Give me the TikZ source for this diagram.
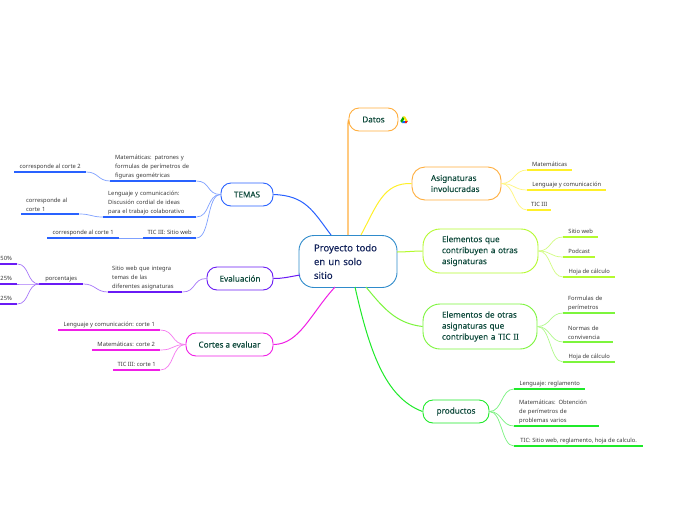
\documentclass[tikz,border=0pt]{standalone}
\usepackage{fontspec}
\setmainfont{Noto Sans}
\newfontfamily\heavy[FakeBold=0.2]{Noto Sans}
\definecolor{cblue}{HTML}{2962FF}
\definecolor{cviolet}{HTML}{6A1BF5}
\definecolor{cmag}{HTML}{F01FE6}
\definecolor{corange}{HTML}{FFAE3D}
\definecolor{cyel}{HTML}{FFF02A}
\definecolor{clime}{HTML}{B4FA2E}
\definecolor{clgreen}{HTML}{7CF53C}
\definecolor{cgreen}{HTML}{1FEA2A}
\definecolor{ccenter}{HTML}{2F8BCB}
\definecolor{tdark}{HTML}{0F4A3C}
\definecolor{tnavy}{HTML}{14245C}
\definecolor{tleaf}{HTML}{3A3A3A}
\tikzset{
  topic/.style={draw=#1,line width=0.9pt,rounded corners=10pt,fill=white,text=tdark,font=\heavy\fontsize{8.15}{11}\selectfont,inner sep=0pt,align=left},
  leafbox/.style={inner sep=0pt,text=tleaf,font=\fontsize{5.8}{9}\selectfont,align=left,anchor=south west},
  uline/.style={draw=#1,line width=1.2pt},
  twig/.style={draw=#1!60!white,line width=0.7pt},
  branch/.style={draw=#1,line width=1pt},
}
% name, x-left, x-right, height, left pad, y of box bottom, text
\newcommand{\leafnode}[7]{%
  \node[leafbox,minimum width=#3pt-#2pt,minimum height=#4pt,text width=#3pt-#2pt-2*#5pt] (#1) at (#2,#6) {#7};
}
\newcommand{\oneleaf}[5]{%
  \node[leafbox,minimum width=#3pt-#2pt,minimum height=10pt] (#1) at (#2,#4) {#5};
}
\begin{document}
\begin{tikzpicture}[x=1pt,y=-1pt]
\useasboundingbox (0,0) rectangle (696,520);
\fill[white] (0,0) rectangle (696,520);
% topic nodes
\node[topic=cblue,minimum width=52pt,minimum height=23pt,align=center] (temas) at (247,194.5) {TEMAS};
\node[topic=cviolet,minimum width=66pt,minimum height=23pt,align=center] (eval) at (240,278.5) {Evaluación};
\node[topic=cmag,minimum width=87pt,minimum height=23pt,align=center] (cortes) at (229.5,344.5) {Cortes a evaluar};
\node[topic=corange,minimum width=49pt,minimum height=23pt,align=center] (datos) at (373.5,119.5) {Datos};
\node[topic=corange,minimum width=89pt,minimum height=33pt,rounded corners=13pt,text width=51pt] (asig) at (456.5,183.5) {Asignaturas\\involucradas};
\node[topic=clime,minimum width=115pt,minimum height=44pt,rounded corners=17pt,text width=77pt] (eque) at (480.5,251) {Elementos que\\contribuyen a otras\\asignaturas};
\node[topic=clgreen,minimum width=114pt,minimum height=45pt,rounded corners=17pt,text width=76pt] (eotras) at (480,326.5) {Elementos de otras\\asignaturas que\\\makebox[0pt][l]{contribuyen a TIC II}};
\node[topic=cgreen,minimum width=66pt,minimum height=23pt,align=center] (prod) at (456,411.5) {productos};
\node[topic=ccenter,minimum width=98pt,minimum height=52pt,rounded corners=15pt,text=tnavy,text width=68pt,font=\heavy\fontsize{9.5}{13.8}\selectfont] (center) at (348,261.5) {Proyecto todo\\en un solo\\sitio};
% anchors on the rim of the centre node
\coordinate (cblue0) at (331,235);
\coordinate (corange0) at (348,235);
\coordinate (cyel0) at (361,235);
\coordinate (clime0) at (397,252);
\coordinate (cviolet0) at (300,275);
\coordinate (cmag0) at (335,287);
\coordinate (cgreen0) at (355,287);
\coordinate (clgreen0) at (366,287);
% leaves
\leafnode{tm}{110}{196}{28}{5}{181}{Matemáticas: patrones y\\formulas  de perímetros de\\figuras geométricas}
\leafnode{tl}{103}{196}{28}{5}{217}{Lenguaje y comunicación:\\Discusión cordial de ideas\\para el trabajo colaborativo}
\oneleaf{tt}{143}{196}{238}{TIC III: Sitio web}
\oneleaf{c2}{14}{86}{172}{corresponde al corte 2}
\leafnode{c1a}{21}{79}{18}{5}{214}{corresponde al\\corte 1}
\oneleaf{c1b}{47}{119}{238}{corresponde al corte 1}
\leafnode{es}{108}{182}{28}{4}{292}{Sitio web que integra\\temas de las\\diferentes asignaturas}
\oneleaf{pc}{39}{83}{284}{porcentajes}
\oneleaf{p50}{0}{17}{264}{50\%\hspace{5pt}}
\oneleaf{p25a}{0}{17}{284}{25\%\hspace{5pt}}
\oneleaf{p25b}{0}{17}{304}{25\%\hspace{5pt}}
\oneleaf{cl}{58}{160}{330}{Lenguaje y comunicación: corte 1}
\oneleaf{cm}{92}{160}{350}{Matemáticas: corte 2}
\oneleaf{ct}{113}{160}{370}{TIC III: corte 1}
\oneleaf{am}{527}{572}{170}{Matemáticas}
\oneleaf{al}{527}{606}{190}{Lenguaje y comunicación}
\oneleaf{at}{527}{551}{210}{TIC III}
\oneleaf{qs}{563}{598}{237}{Sitio web}
\oneleaf{qp}{563}{595}{257}{Podcast}
\oneleaf{qh}{563}{615}{277}{Hoja de cálculo}
\leafnode{of}{563}{615}{18}{5}{313}{Formulas de\\perímetros}
\leafnode{on}{563}{613}{18}{5}{342}{Normas de\\convivencia}
\oneleaf{oh}{563}{615}{362}{Hoja de cálculo}
\oneleaf{pl}{514}{585}{389}{Lenguaje: reglamento}
\leafnode{pm}{514}{599}{28}{5}{426}{Matemáticas: Obtención\\de perímetros de\\problemas varios}
\oneleaf{pt}{514}{643}{446}{TIC: Sitio web, reglamento, hoja de calculo.}
% branches from the centre
\draw[branch=cblue] (temas.east) .. controls +(32,1) and +(-18,-24) .. (cblue0);
\draw[branch=cviolet] (eval.east) .. controls +(10,0) and +(-12,2) .. (cviolet0);
\draw[branch=cmag] (cortes.east) .. controls +(26,0) and +(-24,26) .. (cmag0);
\draw[branch=corange,line width=1.4pt] (corange0) -- (348,124) .. controls (348,121) and (349,120) .. (datos.west);
\draw[branch=cyel] (cyel0) .. controls +(16,-30) and +(-28,-1) .. (asig.west);
\draw[branch=clime] (clime0) .. controls +(9,0) and +(-9,0) .. (eque.west);
\draw[branch=clgreen] (clgreen0) .. controls +(18,22) and +(-26,-3) .. (eotras.west);
\draw[branch=cgreen] (cgreen0) .. controls +(14,62) and +(-38,-14) .. (prod.west);
% leaf underlines
\foreach \n/\c in {tm/cblue,tl/cblue,tt/cblue,c2/cblue,c1a/cblue,c1b/cblue,es/cviolet,pc/cviolet,p50/cviolet,p25a/cviolet,p25b/cviolet,cl/cmag,cm/cmag,ct/cmag,am/cyel,al/cyel,at/cyel,qs/clime,qp/clime,qh/clime,of/clgreen,on/clgreen,oh/clgreen,pl/cgreen,pm/cgreen,pt/cgreen}
  \draw[uline=\c] (\n.south west) -- (\n.south east);
% twigs: to the left
\foreach \a/\b/\c in {temas/tm/cblue,temas/tl/cblue,temas/tt/cblue,eval/es/cviolet,cortes/cl/cmag,cortes/cm/cmag,cortes/ct/cmag}
  \draw[twig=\c] (\a.west) .. controls +(-14,0) and +(14,0) .. (\b.south east);
\foreach \a/\b/\c in {tm/c2/cblue,tl/c1a/cblue,tt/c1b/cblue,es/pc/cviolet,pc/p50/cviolet,pc/p25a/cviolet,pc/p25b/cviolet}
  \draw[twig=\c] (\a.south west) .. controls +(-12,0) and +(12,0) .. (\b.south east);
% twigs: to the right
\foreach \a/\b/\c in {asig/am/cyel,asig/al/cyel,asig/at/cyel,eque/qs/clime,eque/qp/clime,eque/qh/clime,eotras/of/clgreen,eotras/on/clgreen,eotras/oh/clgreen,prod/pl/cgreen,prod/pm/cgreen,prod/pt/cgreen}
  \draw[twig=\c] (\a.east) .. controls +(13,0) and +(-13,0) .. (\b.south west);
% Drive icon beside Datos
\fill[green!65!black] (400.3,121) -- (403,116.4) -- (404.4,118.8) -- (402,123) -- cycle;
\fill[yellow!85!orange] (403,116.4) -- (405,116.4) -- (407.7,121) -- (405.4,121) -- cycle;
\fill[blue!60!cyan] (402,123) -- (403.2,121) -- (407.7,121) -- (406.5,123) -- cycle;
\fill[red!80!orange] (405.4,121) -- (407.7,121) -- (406.5,123) -- (404.6,123) -- cycle;
\end{tikzpicture}
\end{document}
